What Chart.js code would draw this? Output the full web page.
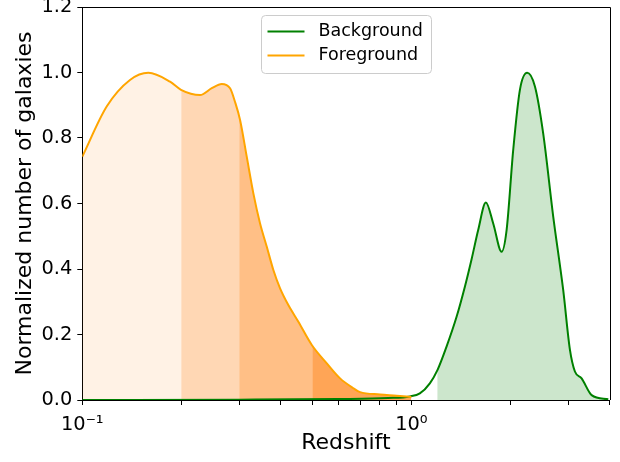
<!DOCTYPE html>
<html>
<head>
<meta charset="utf-8">
<script src="https://cdn.jsdelivr.net/npm/chart.js@4.4.0/dist/chart.umd.min.js"></script>
<style>
  body { margin: 0; background: #fff; }
  canvas { display: block; }
</style>
</head>
<body>
<canvas id="zChart" width="620" height="462"></canvas>
<script>
// redshift distributions
const seriesLabels = ['Background', 'Foreground'];

const bgRedshift = [0.1, 0.3, 0.6, 0.85, 0.99, 1.061, 1.138, 1.201, 1.279, 1.372, 1.454, 1.524, 1.596, 1.684,
    1.773, 1.88, 1.947, 2.039, 2.137, 2.249, 2.374, 2.515, 2.698, 2.893, 3.033, 3.14, 3.291, 3.53, 3.966];
const bgCount = [0.0, 0.001, 0.003, 0.006, 0.011, 0.02, 0.051, 0.092, 0.163, 0.254, 0.346, 0.43, 0.519, 0.603,
    0.539, 0.453, 0.519, 0.763, 0.947, 0.999, 0.957, 0.814, 0.56, 0.336, 0.153, 0.087, 0.066, 0.015, 0.002];

const fgRedshift = [0.1, 0.1186, 0.1396, 0.1587, 0.1848, 0.1995, 0.228, 0.2474, 0.2653, 0.2812, 0.2912, 0.3016,
    0.316, 0.331, 0.3469, 0.3636, 0.3807, 0.399, 0.4228, 0.4535, 0.4982, 0.5533, 0.6072, 0.6665, 0.6985,
    0.8034, 0.9029, 1.0];
const fgCount = [0.743, 0.896, 0.977, 0.999, 0.972, 0.947, 0.931, 0.952, 0.965, 0.952, 0.91, 0.855,
    0.743, 0.631, 0.539, 0.468, 0.397, 0.341, 0.29, 0.239, 0.168, 0.112, 0.066, 0.036, 0.024,
    0.017, 0.013, 0.009];

// shaded redshift bins
const fgBandEdges = [0.1, 0.2, 0.3, 0.5, 1.0];
const bgBandEdges = [1.2, 4.0];

const xTickValues = [0.1, 0.2, 0.3, 0.4, 0.5, 0.6, 0.7, 0.8, 0.9, 1, 2, 3, 4];
const xMajorTicks = [0.1, 1];
const xMajorLabels = ['10\u207B\u00B9', '10\u2070'];
const yTickValues = [0, 0.2, 0.4, 0.6, 0.8, 1.0, 1.2];

const GREEN = '#008000';
const ORANGE = '#ffa500';
const fgBandColors = ['rgba(255,140,20,0.11)', 'rgba(255,127,14,0.31)', 'rgba(255,127,14,0.5)', 'rgba(255,127,14,0.7)'];
const bgBandColor = 'rgba(0,128,0,0.2)';

Chart.defaults.font.family = "'DejaVu Sans', sans-serif";
Chart.defaults.color = '#000';

const toPoints = (xs, ys) => xs.map((x, i) => ({ x: x, y: ys[i] }));

const bands = [];
for (let i = 0; i < fgBandEdges.length - 1; i++) {
    bands.push({ dataset: 1, from: fgBandEdges[i], to: fgBandEdges[i + 1], color: fgBandColors[i] });
}
bands.push({ dataset: 0, from: bgBandEdges[0], to: bgBandEdges[1], color: bgBandColor });

// fill under a curve, but only between two redshifts
const bandFill = {
    id: 'bandFill',
    beforeDatasetsDraw(chart) {
        const ctx = chart.ctx;
        const area = chart.chartArea;
        const xs = chart.scales.x;
        const yBase = chart.scales.y.getPixelForValue(0);
        bands.forEach(b => {
            const line = chart.getDatasetMeta(b.dataset).dataset;
            line.updateControlPoints(area, 'x');
            const pts = line.points;
            const x0 = xs.getPixelForValue(b.from);
            const x1 = xs.getPixelForValue(b.to);
            ctx.save();
            ctx.beginPath();
            ctx.rect(x0, area.top, x1 - x0, area.bottom - area.top);
            ctx.clip();
            ctx.beginPath();
            line.path(ctx);
            ctx.lineTo(pts[pts.length - 1].x, yBase);
            ctx.lineTo(pts[0].x, yBase);
            ctx.closePath();
            ctx.fillStyle = b.color;
            ctx.fill();
            ctx.restore();
        });
    }
};

// top/right spines and the matplotlib style legend inside the axes
const frameAndLegend = {
    id: 'frameAndLegend',
    afterDraw(chart) {
        const ctx = chart.ctx;
        const a = chart.chartArea;
        ctx.save();
        ctx.strokeStyle = '#000';
        ctx.lineWidth = 1;
        ctx.beginPath();
        ctx.moveTo(Math.round(a.left) - 0.5, Math.round(a.top) + 0.5);
        ctx.lineTo(Math.round(a.right) + 0.5, Math.round(a.top) + 0.5);
        ctx.lineTo(Math.round(a.right) + 0.5, Math.round(a.bottom));
        ctx.stroke();

        const boxW = 170, boxH = 58;
        const cx = (a.left + a.right) / 2;
        const bx = Math.round(cx - boxW / 2) + 0.5, by = 15.5;
        ctx.fillStyle = 'rgba(255,255,255,0.8)';
        ctx.strokeStyle = '#cccccc';
        ctx.beginPath();
        ctx.roundRect(bx, by, boxW, boxH, 4);
        ctx.fill();
        ctx.stroke();

        ctx.font = "17.5px 'DejaVu Sans'";
        ctx.textBaseline = 'middle';
        ctx.textAlign = 'left';
        chart.data.datasets.forEach((ds, i) => {
            const y = by + 16 + i * 24;
            ctx.strokeStyle = ds.borderColor;
            ctx.lineWidth = 2;
            ctx.beginPath();
            ctx.moveTo(bx + 6, y);
            ctx.lineTo(bx + 43, y);
            ctx.stroke();
            ctx.fillStyle = '#000';
            ctx.fillText(ds.label, bx + 57, y);
        });
        ctx.restore();
    }
};

new Chart(document.getElementById('zChart'), {
    type: 'line',
    data: {
        datasets: [{
            label: seriesLabels[0],
            data: toPoints(bgRedshift, bgCount),
            borderColor: GREEN,
            borderWidth: 2,
            pointRadius: 0,
            cubicInterpolationMode: 'monotone',
            fill: false,
            order: 1
        }, {
            label: seriesLabels[1],
            data: toPoints(fgRedshift, fgCount),
            borderColor: ORANGE,
            borderWidth: 2,
            pointRadius: 0,
            cubicInterpolationMode: 'monotone',
            fill: false,
            order: 0
        }]
    },
    options: {
        responsive: false,
        animation: false,
        layout: { padding: { top: 7, right: 10.5, bottom: 0, left: 0 } },
        plugins: { legend: { display: false }, tooltip: { enabled: false } },
        scales: {
            x: {
                type: 'logarithmic',
                min: 0.1,
                max: 4,
                afterBuildTicks: scale => { scale.ticks = xTickValues.map(v => ({ value: v })); },
                afterFit: scale => {
                    scale.height = 62;
                    scale.paddingLeft = 0;
                    scale.paddingRight = 0;
                },
                ticks: {
                    autoSkip: false,
                    maxRotation: 0,
                    padding: 8,
                    font: { size: 19.4 },
                    callback: v => {
                        const k = xMajorTicks.indexOf(v);
                        return k >= 0 ? xMajorLabels[k] : '';
                    }
                },
                grid: { drawOnChartArea: false, tickLength: 5, color: '#000' },
                border: { display: true, color: '#000' },
                title: { display: true, text: 'Redshift', font: { size: 22 }, padding: { top: 0, bottom: 6 } }
            },
            y: {
                min: 0,
                max: 1.2,
                afterBuildTicks: scale => { scale.ticks = yTickValues.map(v => ({ value: v })); },
                afterFit: scale => {
                    scale.width = 82.3;
                    scale.paddingTop = 0;
                    scale.paddingBottom = 0;
                },
                ticks: {
                    padding: 5,
                    font: { size: 19.4 },
                    callback: v => v.toFixed(1)
                },
                grid: { drawOnChartArea: false, tickLength: 5, color: '#000' },
                border: { display: true, color: '#000' },
                title: { display: true, text: 'Normalized number of galaxies', font: { size: 22 }, padding: { top: 12, bottom: 0 } }
            }
        }
    },
    plugins: [bandFill, frameAndLegend]
});
</script>
</body>
</html>
